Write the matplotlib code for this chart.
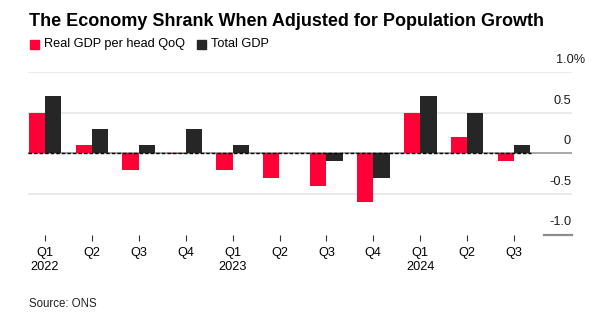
import matplotlib
matplotlib.use("Agg")
import matplotlib.pyplot as plt
import numpy as np

quarters = ["Q1", "Q2", "Q3", "Q4", "Q1", "Q2", "Q3", "Q4", "Q1", "Q2", "Q3"]
years = ["2022", "", "", "", "2023", "", "", "", "2024", "", ""]
gdp_per_head = [0.5, 0.1, -0.2, -0.01, -0.2, -0.3, -0.4, -0.6, 0.5, 0.2, -0.1]
total_gdp = [0.7, 0.3, 0.1, 0.3, 0.1, 0.0, -0.1, -0.3, 0.7, 0.5, 0.1]
yticks = [1.0, 0.5, 0, -0.5, -1.0]
ytick_labels = ["1.0%", "0.5", "0", "-0.5", "-1.0"]

RED = "#ff0037"
DARK = "#262626"
W, H = 601, 326

plt.rcParams["font.family"] = ["Liberation Sans", "DejaVu Sans"]
fig = plt.figure(figsize=(W / 100, H / 100), dpi=100)

# axes box in pixel terms: 28..572 wide, y=1.0 at 72px, y=-1.0 at 234.5px
left, right, top, bottom = 28, 572, 72.1, 234.5
ax = fig.add_axes([left / W, 1 - bottom / H, (right - left) / W, (bottom - top) / H])
x0, dx = 45, 46.9  # first tick px, spacing px
ax.set_xlim((left - x0) / dx, (right - x0) / dx)
ax.set_ylim(-1.0, 1.0)

x = np.arange(len(quarters))
bw = 0.348
ax.bar(x - bw / 2, gdp_per_head, bw, color=RED, zorder=3)
ax.bar(x + bw / 2, total_gdp, bw, color=DARK, zorder=3)

# gridlines
for v in [1.0, 0.5, -0.5]:
    ax.axhline(v, color="#e6e6e6", lw=1.2, zorder=1)
ax.axhline(0, color="#9a9a9a", lw=1.2, zorder=2)
xend = (531 - x0) / dx
ax.plot([ax.get_xlim()[0], xend], [0, 0], color="black", lw=1.0,
        ls=(0, (2.5, 1.5)), zorder=4)
ax.plot([(544 - x0) / dx, ax.get_xlim()[1]], [-1.0, -1.0], color="#8c8c8c",
        lw=1.6, clip_on=False, zorder=2)

for s in ax.spines.values():
    s.set_visible(False)
ax.set_yticks([])
ax.set_xticks(x)
ax.set_xticklabels([q + "\n" + y if y else q for q, y in zip(quarters, years)],
                   fontsize=9.2, linespacing=1.25, va="top")
ax.tick_params(axis="x", length=4, width=0.8, color="#333333", pad=5)

# right-side value labels, sitting above their gridlines
for v, lab in zip(yticks, ytick_labels):
    if lab.endswith("%"):
        ax.text((556 - x0) / dx, v + 0.15, lab, ha="left", va="center",
                fontsize=9.2, color="#1a1a1a", clip_on=False)
    else:
        ax.text((571 - x0) / dx, v + 0.15, lab, ha="right", va="center",
                fontsize=9.2, color="#1a1a1a", clip_on=False)

fig.text(29 / W, 1 - 21 / H, "The Economy Shrank When Adjusted for Population Growth",
         fontsize=13, fontweight="bold", va="center", ha="left")
fig.patches.append(plt.Rectangle((30.5 / W, 1 - 48.5 / H), 8.5 / W, 8.5 / H,
                                 transform=fig.transFigure, color=RED))
fig.text(44 / W, 1 - 44 / H, "Real GDP per head QoQ", fontsize=9.2, va="center")
fig.patches.append(plt.Rectangle((197 / W, 1 - 48.5 / H), 8.5 / W, 8.5 / H,
                                 transform=fig.transFigure, color=DARK))
fig.text(211 / W, 1 - 44 / H, "Total GDP", fontsize=9.2, va="center")
fig.text(29 / W, 1 - 304 / H, "Source: ONS", fontsize=8.3, va="center", color="#222222")

fig.savefig("out.png", dpi=100)
